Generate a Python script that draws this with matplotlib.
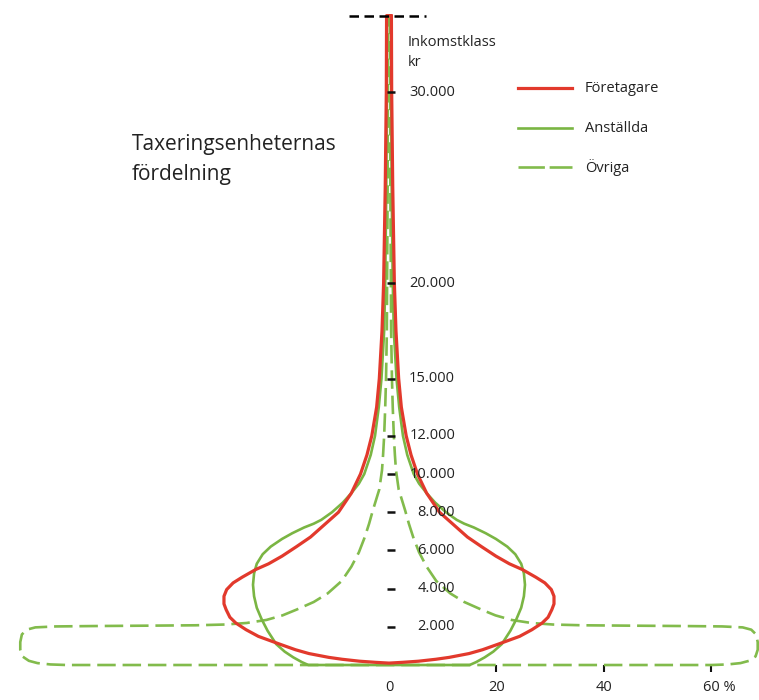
import matplotlib.pyplot as plt
from matplotlib.transforms import ScaledTranslation
import numpy as np

plt.rcParams['font.family'] = ['Open Sans', 'DejaVu Sans']

# right-hand outline of each distribution, read top -> bottom
# income class (thousand kr) and half-width (% of units)
for_y = [34, 30, 25, 20, 17.5, 15, 13.5, 12, 11, 10, 9, 8.0, 7.3, 6.7, 6.2, 5.7, 5.3,
         5.0, 4.6, 4.3, 3.95, 3.6, 3.2, 2.9, 2.5, 2.2, 1.85, 1.5, 1.1, 0.8, 0.6, 0.4,
         0.3, 0.2, 0.14, 0.1]
for_w = [0.45, 0.5, 0.7, 1.0, 1.3, 1.8, 2.3, 3.2, 4.1, 5.3, 7.0, 9.4, 12.2, 14.6, 17.2,
         19.9, 22.4, 24.8, 27.3, 29.0, 30.2, 30.7, 30.7, 30.3, 29.6, 28.5, 26.6, 24.3,
         20.4, 17.4, 14.9, 11.2, 8.7, 5.5, 2.5, 0.0]

ans_y = [34, 30, 25, 20, 17.5, 15, 13.5, 12, 11, 10, 9.5, 9, 8.5, 8.0, 7.6, 7.4, 7.2,
         6.9, 6.6, 6.2, 5.8, 5.3, 4.8, 4.2, 3.6, 3.0, 2.4, 1.8, 1.1, 0.7, 0.4, 0.15, 0]
ans_w = [0.35, 0.4, 0.5, 0.7, 0.9, 1.4, 1.9, 2.6, 3.4, 4.6, 5.6, 7.0, 8.6, 10.6, 12.6,
         14.0, 15.8, 18.0, 19.9, 22.0, 23.5, 24.6, 25.1, 25.3, 25.1, 24.6, 23.7, 22.6,
         21.0, 19.4, 17.8, 16.2, 15.0]

ovr_y = [34, 30, 25, 20, 17.5, 15, 13.5, 12, 11, 10.2, 9.2, 8.1, 7.4, 6.7, 5.9, 5.15,
         4.4, 3.75, 3.3, 2.9, 2.6, 2.36, 2.2, 2.12, 2.08, 2.06, 2.04, 2.02, 1.97, 1.85,
         1.6, 1.2, 0.8, 0.45, 0.22, 0.1, 0.03, 0]
ovr_w = [0.2, 0.22, 0.25, 0.35, 0.4, 0.55, 0.7, 0.9, 1.1, 1.3, 1.8, 3.0, 3.7, 4.5, 5.6,
         7.0, 8.8, 11.4, 14.0, 17.2, 19.8, 22.8, 26.5, 30.5, 36, 45, 55, 62, 65.8, 67.4,
         68.3, 68.6, 68.6, 68.2, 67.0, 65.4, 63, 60]

series = [
    ('Övriga', ovr_y, ovr_w, '#82bb4c', (0, (7, 2.6)), 1.9),
    ('Anställda', ans_y, ans_w, '#7ab543', '-', 1.9),
    ('Företagare', for_y, for_w, '#e2392c', '-', 2.3),
]

inc_ticks = [2, 4, 6, 8, 10, 12, 15, 20, 30]
inc_labels = ['2.000', '4.000', '6.000', '8.000', '10.000', '12.000', '15.000',
              '20.000', '30.000']
pct_ticks = [0, 20, 40, 60]
pct_labels = ['0', '20', '40', '60 %']
top_class = 34

fig = plt.figure(figsize=(7.59, 7.0), dpi=100)
ax = fig.add_axes([0, 0, 1, 1])
ax.set_xlim(-72.37, 68.84)
ax.set_ylim(-1.832, 34.82)

for name, ys, ws, col, ls, lw in series:
    ys = np.array(ys)
    ws = np.array(ws)
    xx = np.concatenate([ws, -ws[::-1], ws[:1]])
    yy = np.concatenate([ys, ys[::-1], ys[:1]])
    ax.plot(xx, yy, color=col, linestyle=ls, linewidth=lw, clip_on=False,
            solid_capstyle='round', solid_joinstyle='round', dash_capstyle='butt')

# top marker line
ax.plot([-7.4, 6.9], [top_class, top_class], color='black', lw=1.8,
        linestyle=(0, (3.8, 2.2)))

# income class marks and labels
ax.plot([0.3] * len(inc_ticks), inc_ticks, ls='none', marker='_', ms=6, mew=1.8,
        color='#111111')
for v, lab in zip(inc_ticks, inc_labels):
    ax.text(12.3, v, lab, ha='right', va='center', fontsize=10.5, color='#222222')

ax.text(3.4, 32.6, 'Inkomstklass', ha='left', va='center', fontsize=10.5, color='#222222')
ax.text(3.4, 31.55, 'kr', ha='left', va='center', fontsize=10.5, color='#222222')

ax.text(-47.8, 27.25, 'Taxeringsenheternas', ha='left', va='center', fontsize=15,
        color='#222222')
ax.text(-47.8, 25.7, 'fördelning', ha='left', va='center', fontsize=15,
        color='#222222')

# percent axis
for s in ax.spines.values():
    s.set_visible(False)
ax.spines['bottom'].set_position(('data', 0))
ax.set_yticks([])
ax.set_xticks(pct_ticks)
ax.set_xticklabels(pct_labels)
ax.tick_params(axis='x', direction='out', length=5, width=1.5, pad=6,
               labelsize=10.5, labelcolor='#222222', color='#111111')
ax.xaxis.get_major_ticks()[0].tick1line.set_visible(False)
last = ax.get_xticklabels()[-1]
last.set_transform(last.get_transform() + ScaledTranslation(0.08, 0, fig.dpi_scale_trans))

# legend
leg_y = [0.874, 0.817, 0.761]
for (name, ys, ws, col, ls, lw), ly in zip(series[::-1], leg_y):
    lstyle = (0, (10, 1.8)) if ls != '-' else '-'
    ax.plot([0.6825, 0.7536], [ly, ly], transform=ax.transAxes, color=col, lw=lw,
            linestyle=lstyle)
    ax.text(0.7708, ly, name, transform=ax.transAxes, ha='left', va='center',
            fontsize=10.5, color='#222222')

fig.savefig('out.png', dpi=100)
